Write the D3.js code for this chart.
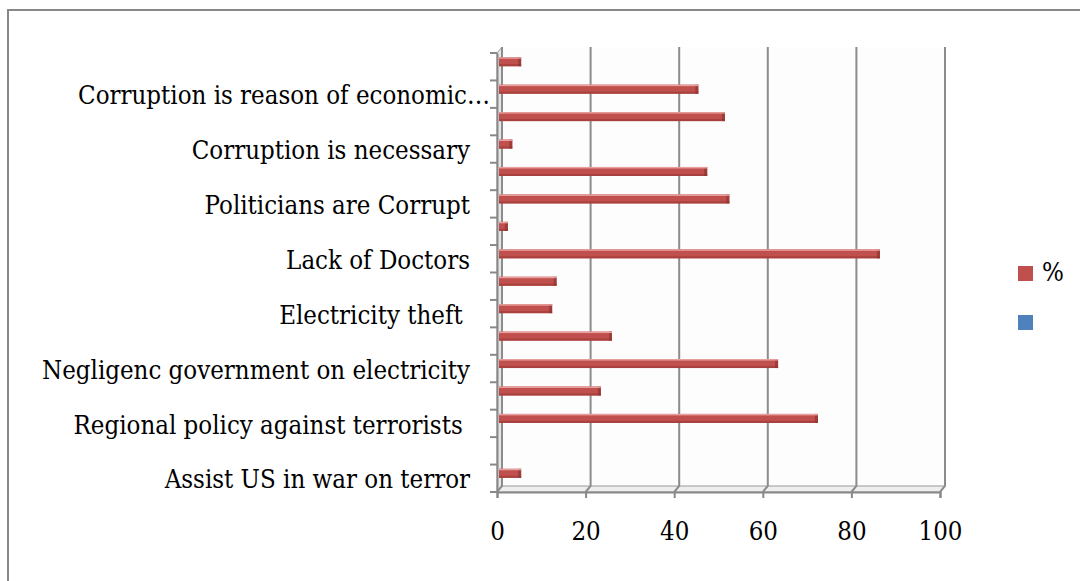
<!DOCTYPE html>
<html><head><meta charset="utf-8">
<script src="https://cdn.jsdelivr.net/npm/d3@7"></script>
<style>
body{margin:0;background:#fff;}
svg{display:block;}
text{font-family:"DejaVu Serif Condensed","DejaVu Serif",serif;font-stretch:condensed;fill:#000;}
</style></head>
<body><svg id="c" width="1080" height="581"></svg>
<script>
// categories top -> bottom ("" = label not shown in the original)
const categories = ["", "Corruption is reason of economic…", "", "Corruption is necessary", "", "Politicians are Corrupt", "", "Lack of Doctors", "", "Electricity theft ", "", "Negligenc government on electricity", "", "Regional policy against terrorists ", "", "Assist US in war on terror"];
const values = [5, 45, 51, 3, 47, 52, 2, 86, 13, 12, 25.5, 63, 23, 72, 0, 5];
const xTicks = [0, 20, 40, 60, 80, 100];
const legendItems = ["%", ""];
const legendColors = ["#c0504d", "#4f81bd"];

const svg = d3.select("#c");
let fs = 22;
const dx = 5, dy = -6; // 3D depth offset

// outer border
svg.append("rect").attr("x", 8).attr("y", 10).attr("width", 1090).attr("height", 600)
  .attr("fill", "#fff").attr("stroke", "#888").attr("stroke-width", 2);

const x = d3.scaleLinear().domain([0, 100]).range([497, 940]);
const y = d3.scaleBand().domain(d3.range(categories.length)).range([53, 492]);
const [y0, y1] = y.range();

const g = svg.append("g");
// back wall
g.append("path")
  .attr("d", `M${x(0)+dx},${y0+dy} H${x(100)+dx} V${y1+dy} H${x(0)+dx} Z`)
  .attr("fill", "#fdfdfd");
// left wall
g.append("path")
  .attr("d", `M${x(0)},${y0} L${x(0)+dx},${y0+dy} V${y1+dy} L${x(0)},${y1} Z`)
  .attr("fill", "#e6e6e6").attr("stroke", "#999").attr("stroke-width", 1);
// floor
g.append("path")
  .attr("d", `M${x(0)},${y1} L${x(0)+dx},${y1+dy} H${x(100)+dx} L${x(100)},${y1} Z`)
  .attr("fill", "#eeeeee").attr("stroke", "#999").attr("stroke-width", 1);

// gridlines on back wall + floor
g.selectAll(".grid").data(xTicks).enter().append("path")
  .attr("d", t => `M${x(t)+dx},${y0+dy} V${y1+dy} L${x(t)},${y1}`)
  .attr("fill", "none").attr("stroke", "#8c8c8c").attr("stroke-width", 2);

// bars
const bh = 9;
const by = i => y(i) + y.bandwidth() / 2 + dy - bh / 2 + 1;
const bars = g.selectAll(".bar").data(values).enter().append("g")
  .style("display", d => d > 0 ? null : "none");
bars.append("rect")
  .attr("x", x(0) + 2).attr("y", (d, i) => by(i))
  .attr("width", d => x(d) - x(0)).attr("height", bh)
  .attr("fill", legendColors[0]);
bars.append("rect")
  .attr("x", x(0) + 2).attr("y", (d, i) => by(i) + bh - 2)
  .attr("width", d => x(d) - x(0)).attr("height", 2)
  .attr("fill", "#a8403d");
bars.append("rect")
  .attr("x", d => x(d) - 1).attr("y", (d, i) => by(i))
  .attr("width", 3).attr("height", bh)
  .attr("fill", "#8e3331").attr("opacity", 0.7);
bars.append("rect")
  .attr("x", x(0) + 2).attr("y", (d, i) => by(i))
  .attr("width", d => x(d) - x(0)).attr("height", 1.5)
  .attr("fill", "#e8a09e");

// y axis
const yAxis = d3.axisLeft(y).tickSize(0).tickPadding(27).tickFormat(i => categories[i]);
const ya = svg.append("g").attr("transform", `translate(${x(0)},0)`).call(yAxis);
ya.select(".domain").attr("stroke", "#888").attr("stroke-width", 2);
ya.selectAll("text").attr("font-size", fs).style("white-space", "pre");
// fit font size so the longest label matches the reference width
const ref = ya.selectAll("text").filter(function(){ return this.textContent.startsWith("Negligenc"); }).node();
fs = fs * 428 / ref.getComputedTextLength();
ya.selectAll("text").attr("font-size", fs).attr("y", 2);
ya.selectAll("text").filter(function(){ return this.textContent.endsWith("…"); }).attr("x", -7);
// y tick marks at band boundaries
const bounds = d3.range(categories.length + 1).map(i => y0 + i * y.step());
svg.append("g").selectAll("line").data(bounds).enter().append("line")
  .attr("x1", x(0) - 7).attr("x2", x(0)).attr("y1", d => d).attr("y2", d => d)
  .attr("stroke", "#888").attr("stroke-width", 2);

// x axis
const xAxis = d3.axisBottom(x).tickValues(xTicks).tickSize(6).tickPadding(24);
const xa = svg.append("g").attr("transform", `translate(0,${y1})`).call(xAxis);
xa.select(".domain").attr("stroke", "#888").attr("stroke-width", 2);
xa.selectAll(".tick line").attr("stroke", "#888").attr("stroke-width", 2);
xa.selectAll("text").attr("font-size", fs);

// legend
const lg = svg.append("g").attr("transform", "translate(1018,266)");
lg.selectAll("rect").data(legendItems).enter().append("rect")
  .attr("x", 0).attr("y", (d, i) => i * 49).attr("width", 15).attr("height", 15)
  .attr("fill", (d, i) => legendColors[i]);
lg.selectAll("text").data(legendItems).enter().append("text")
  .attr("x", 24).attr("y", (d, i) => i * 49 + 15).attr("font-size", fs).text(d => d);
</script></body></html>
